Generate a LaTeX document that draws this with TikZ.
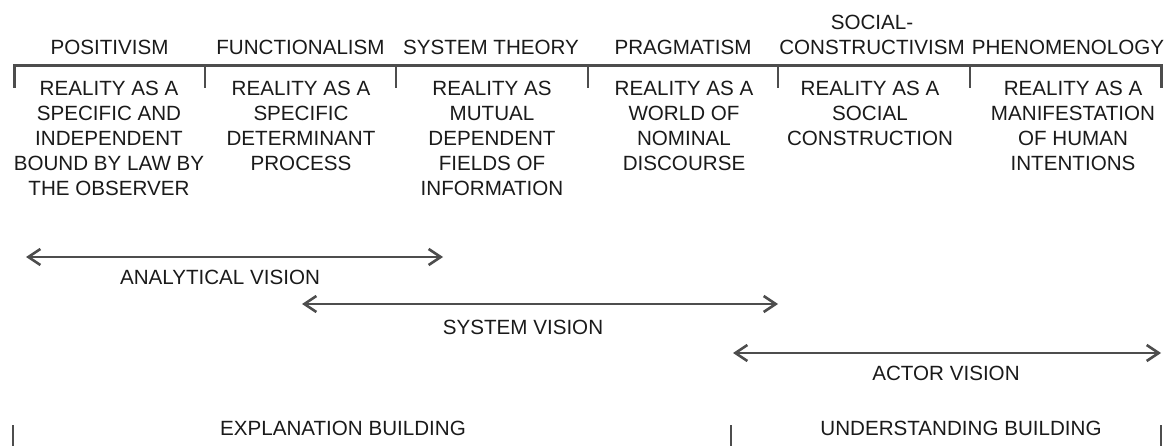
\documentclass[tikz,border=0pt]{standalone}
\usepackage{fontspec}
\setmainfont{Liberation Sans}
\usetikzlibrary{arrows.meta}
\definecolor{txt}{HTML}{1A1A1A}
\definecolor{ln}{HTML}{4D4D4D}
\tikzset{
  lbl/.style={inner sep=0pt, text=txt, align=center, font=\fontsize{20.6}{25}\selectfont},
  head/.style={lbl, anchor=south},
  body/.style={lbl, anchor=north},
  rule/.style={draw=ln, line width=3pt},
  tick/.style={draw=ln, line width=2.7pt},
  span/.style={draw=ln, line width=2.6pt, {Straight Barb[length=12pt,width=16pt]}-{Straight Barb[length=12pt,width=16pt]}},
}
\begin{document}
\begin{tikzpicture}[x=1pt,y=-1pt]
\useasboundingbox (0,0) rectangle (1174,446);
% column boundaries
\foreach \i/\x in {0/14,1/205,2/396,3/588,4/778,5/970,6/1161}{
  \coordinate (t\i) at (\x,66);
  \coordinate (d\i) at (\x,88);
}
% headers
\node[head] (h1) at (109.5,54.5) {POSITIVISM};
\node[head] (h2) at (300.5,54.5) {FUNCTIONALISM};
\node[head] (h3) at (491,54.5) {SYSTEM THEORY};
\node[head] (h4) at (683,54.5) {PRAGMATISM};
\node[head] (h5) at (872,54.5) {SOCIAL-\\CONSTRUCTIVISM};
\node[head] (h6) at (1068,54.5) {PHENOMENOLOGY};
% bracket
\draw[rule, line join=miter] (d0) -- (t0) -- (t6) -- (d6);
\foreach \i in {1,...,5}{ \draw[tick] (t\i) -- (d\i); }
% bodies
\node[body] (b1) at (109,80.8) {REALITY AS A\\SPECIFIC AND\\INDEPENDENT\\BOUND BY LAW BY\\THE OBSERVER};
\node[body] (b2) at (301,80.8) {REALITY AS A\\SPECIFIC\\DETERMINANT\\PROCESS};
\node[body] (b3) at (492,80.8) {REALITY AS\\MUTUAL\\DEPENDENT\\FIELDS OF\\INFORMATION};
\node[body] (b4) at (684,80.8) {REALITY AS A\\WORLD OF\\NOMINAL\\DISCOURSE};
\node[body] (b5) at (870,80.8) {REALITY AS A\\SOCIAL\\CONSTRUCTION};
\node[body] (b6) at (1073,80.8) {REALITY AS A\\MANIFESTATION\\OF HUMAN\\INTENTIONS};
% vision arrows
\coordinate (a1) at (26,257);
\coordinate (a2) at (443,257);
\coordinate (s1) at (302,304);
\coordinate (s2) at (778,304);
\coordinate (c1) at (733,353);
\coordinate (c2) at (1161,353);
\draw[span] (a1) -- (a2);
\draw[span] (s1) -- (s2);
\draw[span] (c1) -- (c2);
\node[lbl] (av) at (220,277) {ANALYTICAL VISION};
\node[lbl] (sv) at (523,327) {SYSTEM VISION};
\node[lbl] (cv) at (946,373) {ACTOR VISION};
% building
\node[lbl] (eb) at (343,428) {EXPLANATION BUILDING};
\node[lbl] (ub) at (961,428) {UNDERSTANDING BUILDING};
\coordinate (e0) at (13,425);
\coordinate (e0b) at (13,446);
\coordinate (e1) at (731,425);
\coordinate (e1b) at (731,446);
\coordinate (e2) at (1161,425);
\coordinate (e2b) at (1161,446);
\draw[tick] (e0) -- (e0b);
\draw[tick] (e1) -- (e1b);
\draw[tick] (e2) -- (e2b);
\end{tikzpicture}
\end{document}
